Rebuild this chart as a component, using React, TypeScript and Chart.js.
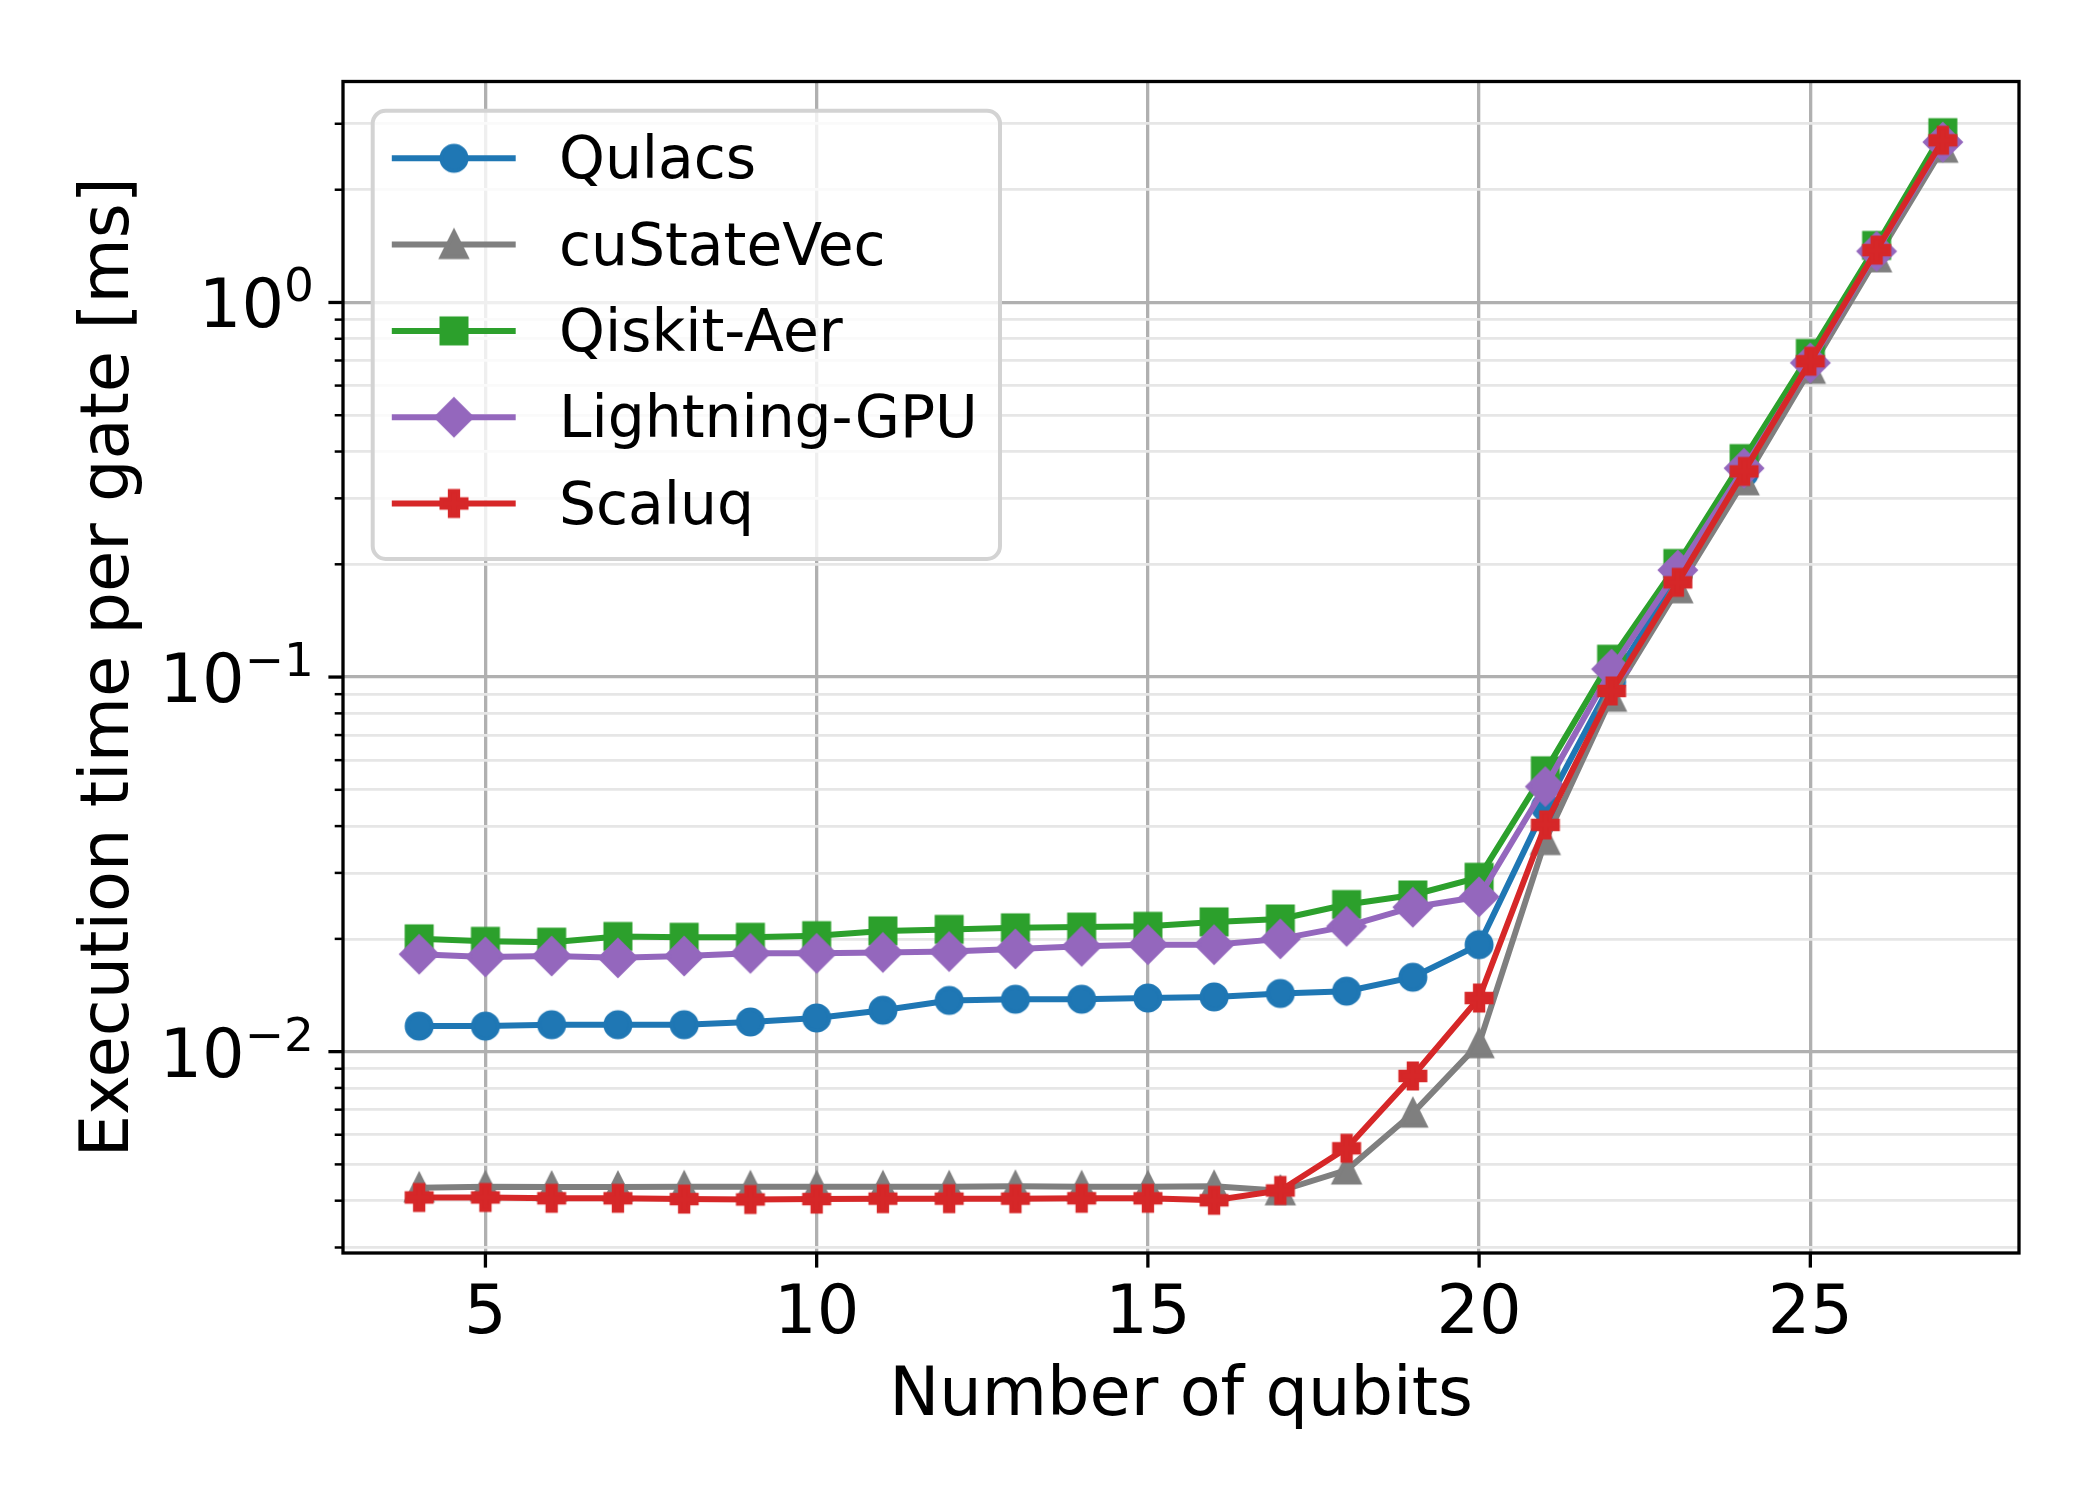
import { useEffect, useRef } from "react"
import { Chart, registerables } from "chart.js"

Chart.register(...registerables)

const qubits = [4, 5, 6, 7, 8, 9, 10, 11, 12, 13, 14, 15, 16, 17, 18, 19, 20, 21, 22, 23, 24, 25, 26, 27]

const qulacs = [
  0.0117, 0.0117, 0.0118, 0.0118, 0.0118, 0.012, 0.0123, 0.0129, 0.0137, 0.0138, 0.0138, 0.0139,
  0.014, 0.0143, 0.0145, 0.0158, 0.0193, 0.045, 0.097, 0.186, 0.35, 0.7, 1.38, 2.72,
]
const cuStateVec = [
  0.00433, 0.00436, 0.00435, 0.00435, 0.00436, 0.00436, 0.00436, 0.00436, 0.00436, 0.00437, 0.00436,
  0.00436, 0.00437, 0.00425, 0.00483, 0.00685, 0.0105, 0.0366, 0.0883, 0.172, 0.334, 0.663, 1.315, 2.58,
]
const qiskitAer = [
  0.02, 0.0197, 0.0196, 0.0203, 0.0202, 0.0202, 0.0204, 0.021, 0.0212, 0.0214, 0.0215, 0.0216,
  0.0222, 0.0226, 0.0247, 0.0262, 0.0292, 0.0562, 0.1116, 0.201, 0.383, 0.731, 1.42, 2.84,
]
const lightningGpu = [
  0.0182, 0.0179, 0.018, 0.0178, 0.018, 0.0183, 0.0183, 0.0184, 0.0185, 0.0188, 0.0191, 0.0193,
  0.0193, 0.02, 0.0216, 0.0243, 0.0259, 0.051, 0.105, 0.193, 0.361, 0.69, 1.37, 2.68,
]
const scaluq = [
  0.00408, 0.00408, 0.00406, 0.00406, 0.00404, 0.00403, 0.00404, 0.00405, 0.00405, 0.00405, 0.00406,
  0.00406, 0.00401, 0.00426, 0.00552, 0.00861, 0.0139, 0.0403, 0.0918, 0.179, 0.354, 0.697, 1.38, 2.71,
]

const seriesNames = ["Qulacs", "cuStateVec", "Qiskit-Aer", "Lightning-GPU", "Scaluq"]
const seriesValues = [qulacs, cuStateVec, qiskitAer, lightningGpu, scaluq]
const seriesColors = ["#1f77b4", "#7f7f7f", "#2ca02c", "#9467bd", "#d62728"]
const seriesMarkers = ["circle", "triangle", "square", "diamond", "plus"]

const xTicks = [5, 10, 15, 20, 25]
const yMajorTicks = [0.01, 0.1, 1]
const yTickBase = "10"
const yTickExponents = ["−2", "−1", "0"]

const FONT = "DejaVu Sans"

function makeMarker(shape: string, color: string): HTMLCanvasElement {
  const c = document.createElement("canvas")
  c.width = 48
  c.height = 48
  const g = c.getContext("2d")!
  g.translate(24, 24)
  g.fillStyle = color
  g.strokeStyle = color
  g.lineWidth = 4
  g.lineJoin = "miter"
  const s = 12.5
  g.beginPath()
  if (shape === "circle") {
    g.arc(0, 0, s, 0, Math.PI * 2)
  } else if (shape === "triangle") {
    g.moveTo(0, -s)
    g.lineTo(s, s)
    g.lineTo(-s, s)
    g.closePath()
  } else if (shape === "square") {
    g.rect(-s, -s, 2 * s, 2 * s)
  } else if (shape === "diamond") {
    const d = s * Math.SQRT2
    g.moveTo(0, -d)
    g.lineTo(d, 0)
    g.lineTo(0, d)
    g.lineTo(-d, 0)
    g.closePath()
  } else {
    const w = s / 3
    const pts = [
      [-w, -s], [w, -s], [w, -w], [s, -w], [s, w], [w, w],
      [w, s], [-w, s], [-w, w], [-s, w], [-s, -w], [-w, -w],
    ]
    pts.forEach(([px, py], i) => (i === 0 ? g.moveTo(px, py) : g.lineTo(px, py)))
    g.closePath()
  }
  g.fill()
  g.stroke()
  return c
}

// frame, tick marks, y labels with exponents and the legend box
const decorPlugin = {
  id: "decor",
  afterDatasetsDraw(chart: any) {
    const { ctx, chartArea: a } = chart
    ctx.save()
    ctx.strokeStyle = "#000"
    ctx.lineWidth = 3.3
    ctx.strokeRect(a.left, a.top, a.right - a.left, a.bottom - a.top)
    ctx.restore()
  },
  afterDraw(chart: any) {
    const { ctx, chartArea: a } = chart
    const xs = chart.scales.x
    const ys = chart.scales.y
    ctx.save()
    ctx.strokeStyle = "#000"
    ctx.lineWidth = 3.3
    xTicks.forEach((v) => {
      const px = xs.getPixelForValue(v)
      ctx.beginPath()
      ctx.moveTo(px, a.bottom)
      ctx.lineTo(px, a.bottom + 14.6)
      ctx.stroke()
    })
    ys.ticks.forEach((t: any) => {
      const py = ys.getPixelForValue(t.value)
      ctx.lineWidth = t.major ? 3.3 : 2.5
      ctx.beginPath()
      ctx.moveTo(a.left, py)
      ctx.lineTo(a.left - (t.major ? 14.6 : 8.3), py)
      ctx.stroke()
    })

    ctx.fillStyle = "#000"
    ctx.textAlign = "right"
    ctx.textBaseline = "alphabetic"
    yMajorTicks.forEach((v, i) => {
      const py = ys.getPixelForValue(v)
      const right = a.left - 29
      ctx.font = `47px '${FONT}'`
      const ew = ctx.measureText(yTickExponents[i]).width
      ctx.fillText(yTickExponents[i], right, py - 1)
      ctx.font = `67px '${FONT}'`
      ctx.fillText(yTickBase, right - ew, py + 25)
    })

    // legend
    const lx = 372.7
    const ly = 110.7
    const lw = 1000 - lx
    const lh = 559 - ly
    ctx.beginPath()
    ctx.roundRect(lx, ly, lw, lh, 13)
    ctx.fillStyle = "rgba(255,255,255,0.8)"
    ctx.fill()
    ctx.strokeStyle = "#d3d3d3"
    ctx.lineWidth = 4
    ctx.stroke()
    ctx.textAlign = "left"
    ctx.font = `58.3px '${FONT}'`
    chart.data.datasets.forEach((ds: any, i: number) => {
      const yy = 158.3 + i * 86.3
      ctx.strokeStyle = ds.borderColor
      ctx.lineWidth = 6
      ctx.beginPath()
      ctx.moveTo(391.8, yy)
      ctx.lineTo(515.7, yy)
      ctx.stroke()
      const m = ds.pointStyle as HTMLCanvasElement
      ctx.drawImage(m, 454 - m.width / 2, yy - m.height / 2)
      ctx.fillStyle = "#000"
      ctx.fillText(ds.label, 559, yy + 20)
    })
    ctx.restore()
  },
}

export default function App() {
  const canvasRef = useRef<HTMLCanvasElement>(null)
  const chartRef = useRef<Chart | null>(null)

  useEffect(() => {
    if (!canvasRef.current) return
    if (chartRef.current) chartRef.current.destroy()

    const datasets = seriesNames.map((name, i) => ({
      label: name,
      data: qubits.map((q, j) => ({ x: q, y: seriesValues[i][j] })),
      borderColor: seriesColors[i],
      backgroundColor: seriesColors[i],
      borderWidth: 6,
      pointStyle: makeMarker(seriesMarkers[i], seriesColors[i]),
      pointRadius: 14,
      pointHoverRadius: 14,
      tension: 0,
      order: seriesNames.length - i,
    }))

    chartRef.current = new Chart(canvasRef.current, {
      type: "line",
      data: { datasets: datasets as any },
      plugins: [decorPlugin],
      options: {
        animation: false,
        responsive: false,
        devicePixelRatio: 1,
        events: [],
        layout: { padding: { top: 81.5, right: 81, left: 0, bottom: 0 } },
        plugins: {
          legend: { display: false },
          tooltip: { enabled: false },
        },
        scales: {
          x: {
            type: "linear",
            min: 2.85,
            max: 28.15,
            bounds: "data",
            afterBuildTicks: (scale: any) => {
              scale.ticks = xTicks.map((v) => ({ value: v }))
            },
            afterFit: (scale: any) => {
              scale.height = 247
            },
            border: { display: false },
            grid: { color: "#b0b0b0", lineWidth: 3.3, drawTicks: false },
            ticks: {
              autoSkip: false,
              maxRotation: 0,
              padding: 22,
              color: "#000",
              font: { family: FONT, size: 67 },
              callback: (v: any) => String(v),
            },
            title: {
              display: true,
              text: "Number of qubits",
              color: "#000",
              font: { family: FONT, size: 67 },
              padding: { top: 0, bottom: 62.5 },
            },
          },
          y: {
            type: "logarithmic",
            min: 0.0029,
            max: 3.89,
            bounds: "data",
            afterBuildTicks: (scale: any) => {
              const ticks: { value: number; major: boolean }[] = []
              for (let e = -3; e <= 0; e++) {
                for (let m = 1; m <= 9; m++) {
                  const v = m * Math.pow(10, e)
                  if (v >= scale.min && v <= scale.max) ticks.push({ value: v, major: m === 1 })
                }
              }
              scale.ticks = ticks
            },
            afterFit: (scale: any) => {
              scale.width = 343
            },
            border: { display: false },
            grid: {
              drawTicks: false,
              color: (c: any) => (c.tick && c.tick.major ? "#b0b0b0" : "#e6e6e6"),
              lineWidth: (c: any) => (c.tick && c.tick.major ? 3.3 : 2.7),
            },
            ticks: { display: false },
            title: {
              display: true,
              text: "Execution time per gate [ms]",
              color: "#000",
              font: { family: FONT, size: 67 },
              padding: { top: 70.5, bottom: 0 },
            },
          },
        },
      },
    })

    return () => {
      if (chartRef.current) {
        chartRef.current.destroy()
        chartRef.current = null
      }
    }
  }, [])

  return (
    <div style={{ position: "absolute", left: 0, top: 0, width: 2100, height: 1500, background: "#fff" }}>
      <canvas ref={canvasRef} width={2100} height={1500} style={{ width: 2100, height: 1500 }}></canvas>
    </div>
  )
}
